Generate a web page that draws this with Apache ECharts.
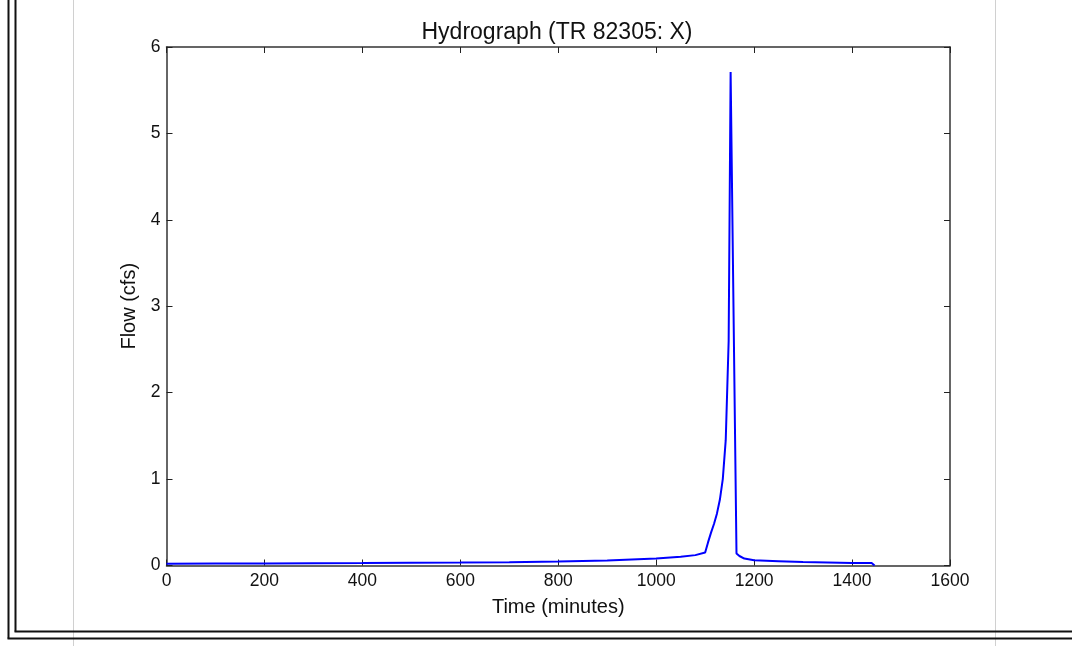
<!DOCTYPE html>
<html>
<head>
<meta charset="utf-8">
<script src="https://cdn.jsdelivr.net/npm/echarts@6/dist/echarts.min.js"></script>
<style>
html,body{margin:0;padding:0;background:#fff;}
#c{width:1072px;height:646px;}
</style>
</head>
<body>
<div id="c"></div>
<script>
const times = [0,100,200,300,400,500,600,700,800,900,1000,1050,1080,1100,1106,1112,1118,1124,1130,1136,1142,1148,1152,1164,1170,1180,1200,1250,1300,1350,1400,1440,1446];
const flows = [0.02,0.022,0.024,0.026,0.028,0.031,0.034,0.039,0.046,0.058,0.08,0.1,0.12,0.15,0.27,0.38,0.48,0.6,0.76,1.0,1.45,2.6,5.71,0.14,0.11,0.08,0.06,0.05,0.04,0.035,0.03,0.028,0.0];
const xTicks = [0,200,400,600,800,1000,1200,1400,1600];
const yTicks = [0,1,2,3,4,5,6];
const titleText = 'Hydrograph (TR 82305: X)';
const xName = 'Time (minutes)';
const yName = 'Flow (cfs)';

const font = 'Liberation Sans, Arial, sans-serif';
const chart = echarts.init(document.getElementById('c'), null, {renderer:'canvas'});
const axisLine = {show:true, onZero:false, lineStyle:{color:'#333', width:1.5}};
const tick = {show:true, inside:true, length:6, lineStyle:{color:'#222', width:1}};
const plain = v => String(v);
const data = times.map((t,i)=>[t, flows[i]]);
chart.setOption({
  backgroundColor:'#fff',
  animation:false,
  title:{text:titleText, left:552, top:16, textAlign:'center',
    textStyle:{fontFamily:font, fontSize:23, fontWeight:'normal', color:'#111'}},
  grid:{left:166.5, top:47, right:122, bottom:80.5, containLabel:false},
  xAxis:[
    {type:'value', min:xTicks[0], max:xTicks[xTicks.length-1], interval:200,
     axisLine:axisLine, axisTick:tick, splitLine:{show:false},
     axisLabel:{fontFamily:font, fontSize:17.5, color:'#111', margin:7, formatter:plain},
     name:xName, nameLocation:'middle', nameGap:32,
     nameTextStyle:{fontFamily:font, fontSize:20, color:'#111'}},
    {type:'value', position:'top', min:xTicks[0], max:xTicks[xTicks.length-1], interval:200,
     axisLine:axisLine, axisTick:tick, splitLine:{show:false}, axisLabel:{show:false}}
  ],
  yAxis:[
    {type:'value', min:yTicks[0], max:yTicks[yTicks.length-1], interval:1,
     axisLine:axisLine, axisTick:tick, splitLine:{show:false},
     axisLabel:{fontFamily:font, fontSize:17.5, color:'#111', margin:6, formatter:plain},
     name:yName, nameLocation:'middle', nameGap:26, nameRotate:90,
     nameTextStyle:{fontFamily:font, fontSize:20, color:'#111'}},
    {type:'value', position:'right', min:yTicks[0], max:yTicks[yTicks.length-1], interval:1,
     axisLine:axisLine, axisTick:tick, splitLine:{show:false}, axisLabel:{show:false}}
  ],
  series:[{type:'line', data:data, showSymbol:false, symbol:'none',
    lineStyle:{color:'#0000ff', width:2}, xAxisIndex:0, yAxisIndex:0}],
  graphic:[
    {type:'line', shape:{x1:73.5,y1:0,x2:73.5,y2:646}, style:{stroke:'#d0d0d0', lineWidth:1}, z:-1},
    {type:'line', shape:{x1:995.5,y1:0,x2:995.5,y2:646}, style:{stroke:'#d0d0d0', lineWidth:1}, z:-1},
    {type:'line', shape:{x1:8.5,y1:0,x2:8.5,y2:638.5}, style:{stroke:'#111', lineWidth:2}},
    {type:'line', shape:{x1:15.5,y1:0,x2:15.5,y2:631.5}, style:{stroke:'#111', lineWidth:2}},
    {type:'line', shape:{x1:7.5,y1:638.5,x2:1072,y2:638.5}, style:{stroke:'#111', lineWidth:2}},
    {type:'line', shape:{x1:14.5,y1:631.5,x2:1072,y2:631.5}, style:{stroke:'#111', lineWidth:2}}
  ]
});
</script>
</body>
</html>
